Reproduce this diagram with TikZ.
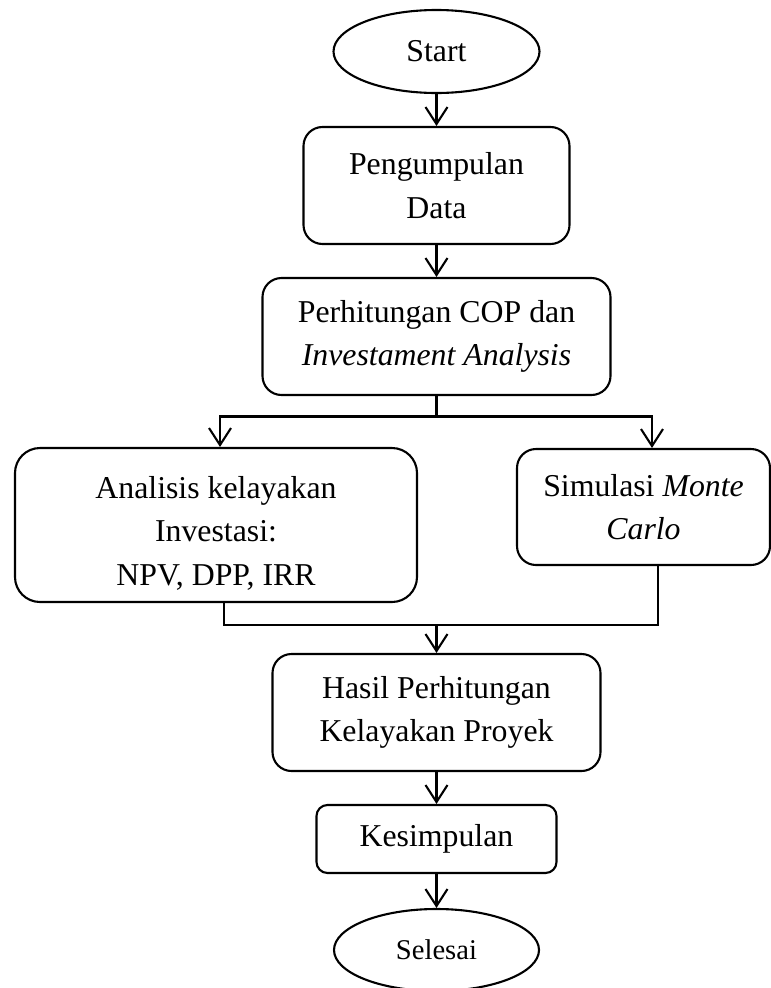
\documentclass[tikz,border=0pt]{standalone}
\usepackage{fontspec}
\setmainfont{Liberation Serif}
\usetikzlibrary{shapes.geometric,arrows.meta}
\begin{document}
\begin{tikzpicture}[x=1pt,y=-1pt,
  txt/.style={font=\fontsize{31.8}{43.5}\selectfont, inner sep=0pt, line width=2.1pt, draw, align=center},
  proc/.style={txt, rectangle},
  term/.style={txt, ellipse},
  conn/.style={line width=2.1pt},
  arr/.style={conn, -{Straight Barb[length=17pt,width=22pt]}}]
\useasboundingbox (0,0) rectangle (771,988);
\node[term, minimum width=206pt, minimum height=83pt] (start) at (436.5,51.5) {Start};
\node[proc, minimum width=266pt, minimum height=117pt, rounded corners=19pt] (pd) at (436.5,185.5) {Pengumpulan\\Data};
\node[proc, minimum width=348pt, minimum height=117pt, rounded corners=19pt] (cop) at (436.5,336.5) {Perhitungan COP dan\\\textit{Investament Analysis}};
\node[proc, minimum width=402pt, minimum height=154pt, rounded corners=25pt] (ak) at (216,525) {\rule{0pt}{38pt}Analisis kelayakan\\Investasi:\\NPV, DPP, IRR};
\node[proc, minimum width=253pt, minimum height=116pt, rounded corners=19pt] (mc) at (643.5,507) {Simulasi \textit{Monte}\\\textit{Carlo}};
\node[proc, minimum width=328pt, minimum height=117pt, rounded corners=19pt] (hasil) at (436.5,712.5) {Hasil Perhitungan\\Kelayakan Proyek};
\node[proc, minimum width=240pt, minimum height=68pt, rounded corners=11pt] (kes) at (436.5,839) {Kesimpulan};
\node[term, minimum width=205pt, minimum height=82pt, font=\fontsize{28.6}{34}\selectfont] (sel) at (436.5,950) {Selesai};
\coordinate (split) at (436.5,416.5);
\coordinate (join) at (436.5,625);
\draw[arr] (start) -- (pd);
\draw[arr] (pd) -- (cop);
\draw[conn] (cop.south) -- (split);
\draw[arr] (split) -| ([xshift=4pt]ak.north);
\draw[arr] (split) -| ([xshift=8.5pt]mc.north);
\draw[conn] ([xshift=8pt]ak.south) |- (join);
\draw[conn] ([xshift=14.5pt]mc.south) |- (join);
\draw[arr] (join) -- (hasil);
\draw[arr] (hasil) -- (kes);
\draw[arr] (kes) -- (sel);
\end{tikzpicture}
\end{document}
